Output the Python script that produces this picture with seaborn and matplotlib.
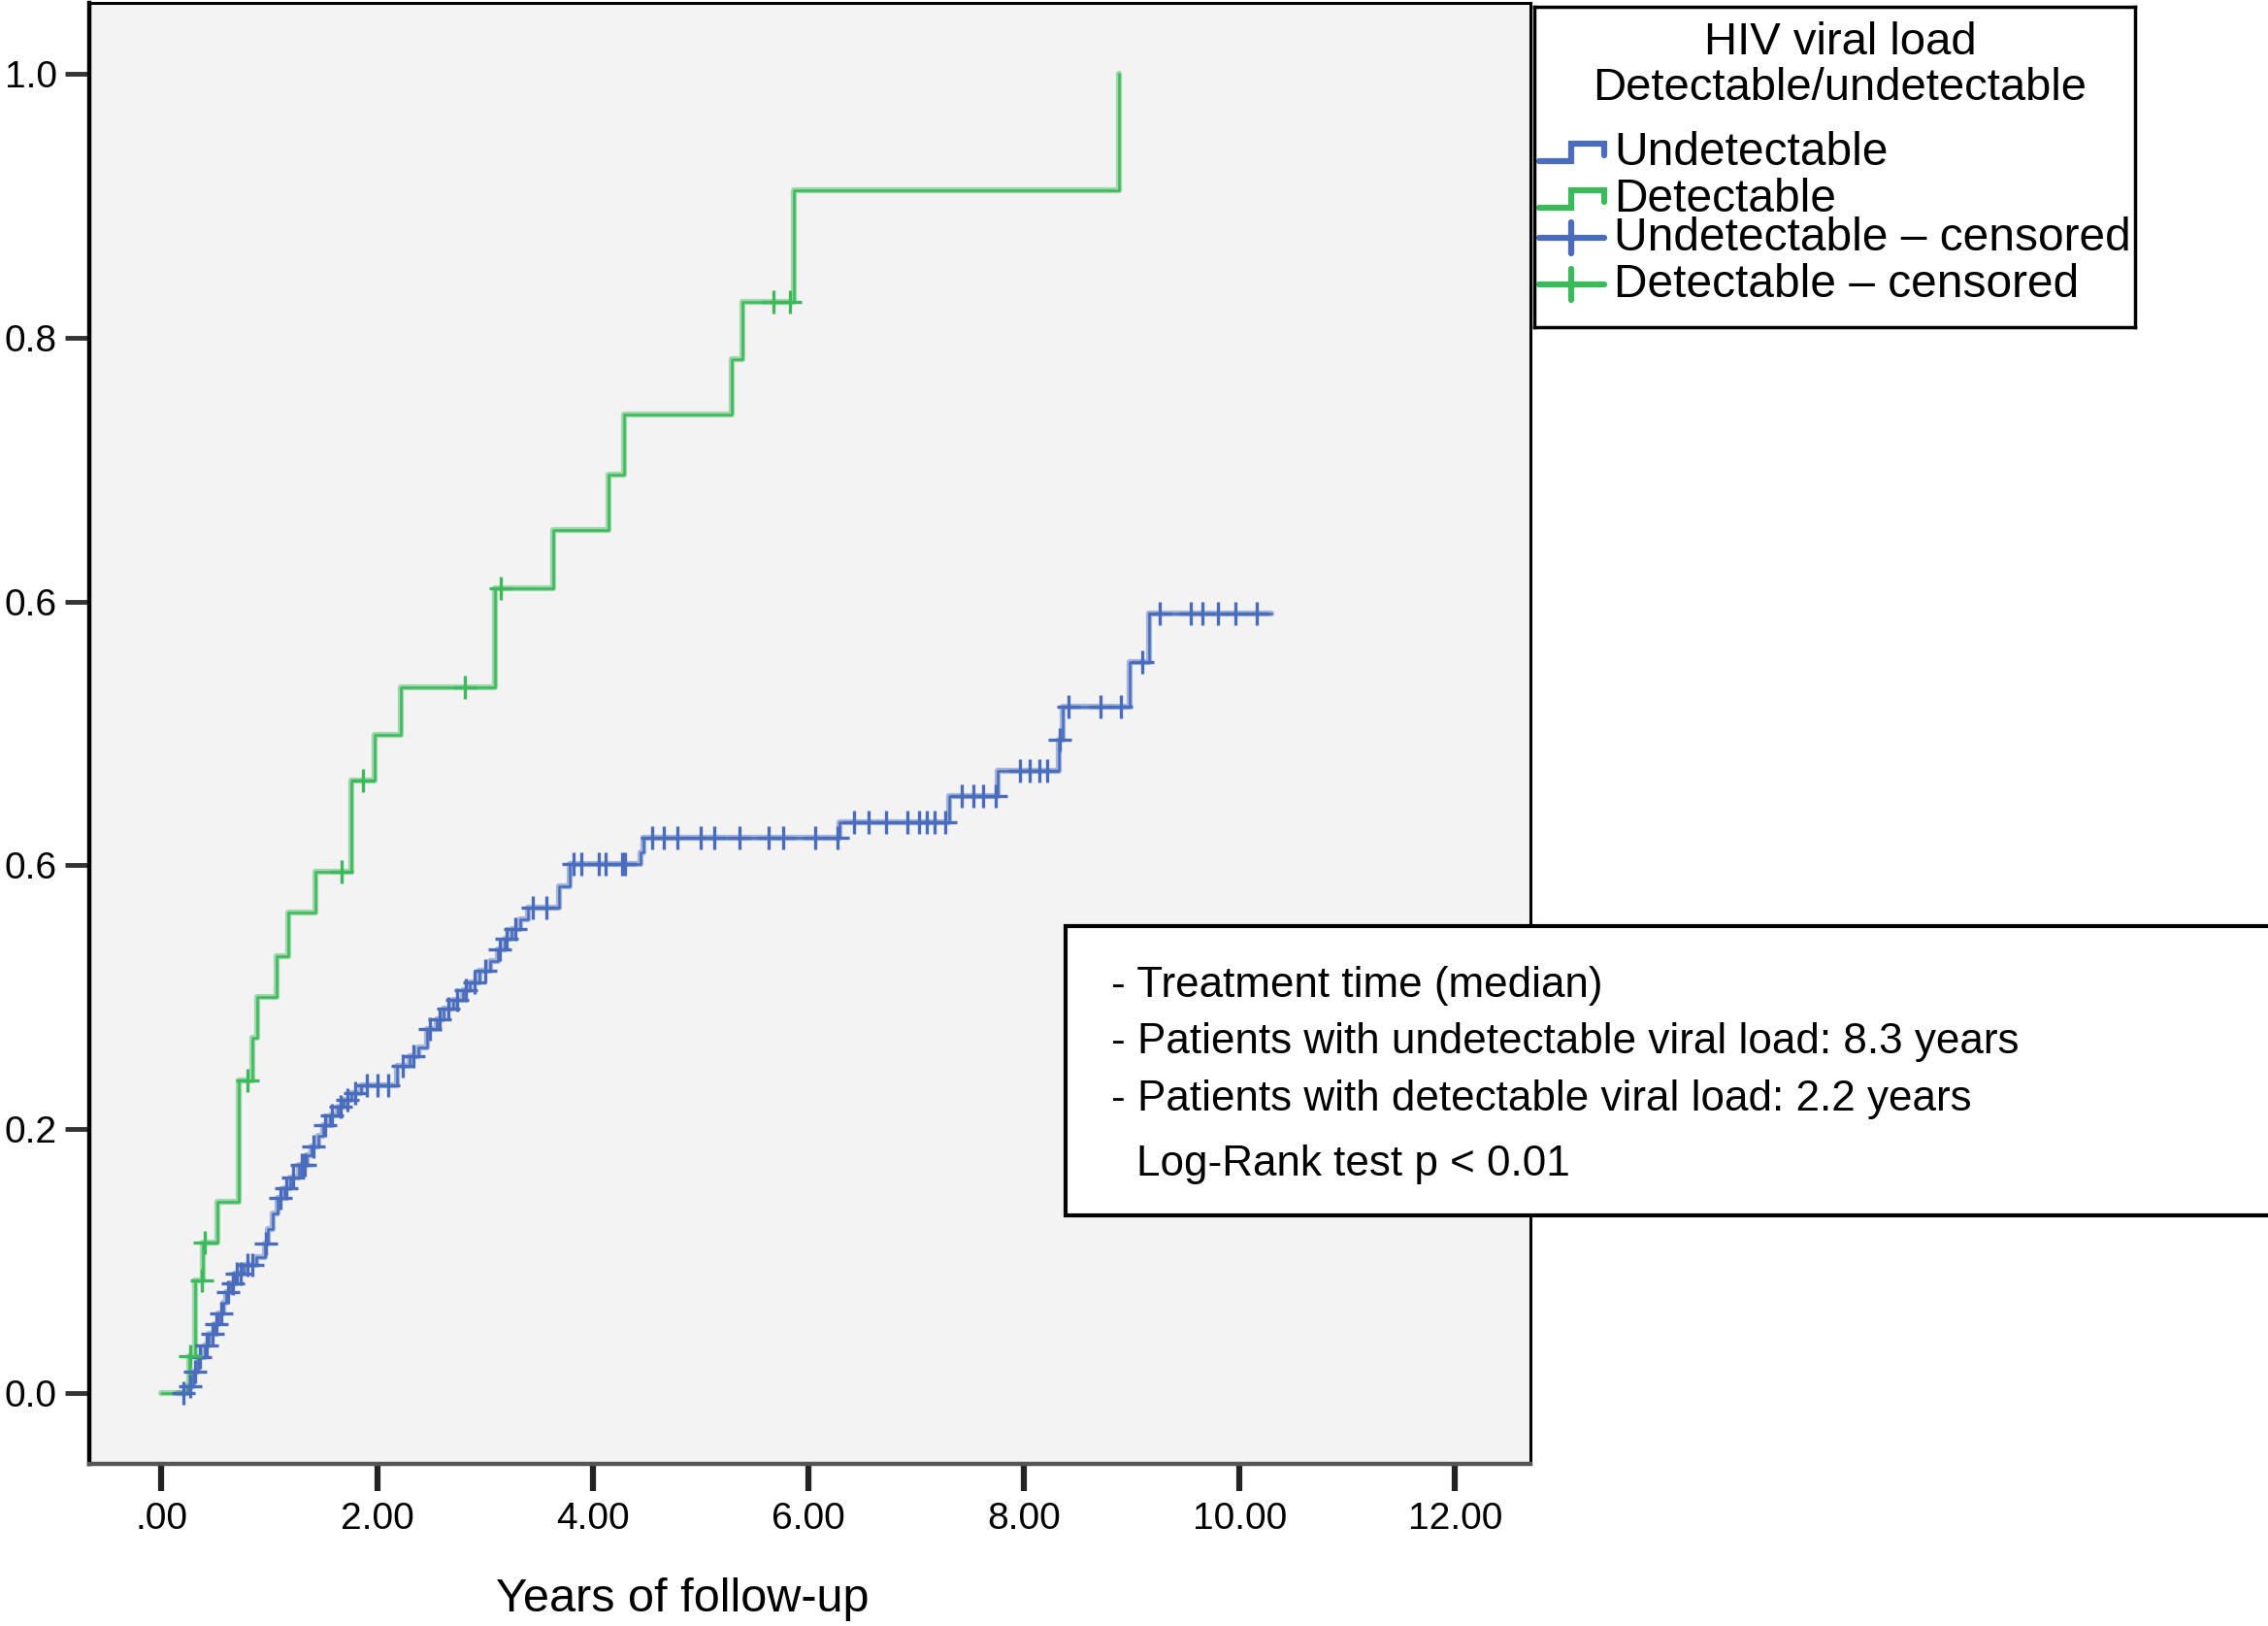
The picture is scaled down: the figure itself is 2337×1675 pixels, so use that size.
import numpy as np
import pandas as pd
import matplotlib
matplotlib.use("Agg")
import matplotlib.pyplot as plt
import seaborn as sns
from matplotlib.patches import Rectangle

# 数据：阶梯点（时间，累计比例）
undet_time = [0.15, 0.24, 0.29, 0.34, 0.40, 0.44, 0.49, 0.53, 0.57, 0.60, 0.64, 0.68,
              0.76, 0.88, 0.96, 0.99, 1.03, 1.08, 1.14, 1.19, 1.27, 1.35, 1.39, 1.45,
              1.50, 1.56, 1.63, 1.69, 1.76, 1.85, 2.18, 2.30, 2.38, 2.46, 2.55, 2.62,
              2.71, 2.80, 2.86, 2.95, 3.05, 3.12, 3.18, 3.25, 3.33, 3.40, 3.69, 3.79,
              4.44, 4.47, 6.29, 7.31, 7.76, 8.32, 8.36, 8.98, 9.16, 10.30]
undet_value = [0.0, 0.005, 0.016, 0.027, 0.036, 0.045, 0.052, 0.060, 0.068, 0.076, 0.083, 0.090,
               0.097, 0.103, 0.113, 0.124, 0.136, 0.148, 0.155, 0.163, 0.173, 0.180, 0.187, 0.195,
               0.203, 0.210, 0.217, 0.222, 0.227, 0.233, 0.248, 0.255, 0.262, 0.276, 0.283, 0.291,
               0.298, 0.305, 0.311, 0.320, 0.327, 0.336, 0.344, 0.352, 0.359, 0.368, 0.384, 0.401,
               0.410, 0.421, 0.433, 0.4525, 0.472, 0.495, 0.520, 0.554, 0.591, 0.591]
undet_censor_time = [0.20, 0.27, 0.31, 0.36, 0.42, 0.47, 0.51, 0.55, 0.62, 0.66, 0.70, 0.73,
                     0.80, 0.84, 0.97, 1.10, 1.16, 1.22, 1.30, 1.33, 1.41, 1.52, 1.58, 1.66,
                     1.72, 1.80, 1.90, 2.00, 2.10, 2.24, 2.34, 2.49, 2.58, 2.66, 2.74, 2.82,
                     2.90, 3.00, 3.14, 3.20, 3.28, 3.44, 3.57, 3.82, 3.89, 4.06, 4.12, 4.27,
                     4.30, 4.55, 4.66, 4.79, 5.00, 5.13, 5.36, 5.63, 5.77, 6.06, 6.27, 6.42,
                     6.56, 6.72, 6.92, 7.03, 7.10, 7.17, 7.27, 7.42, 7.53, 7.62, 7.74, 7.96,
                     8.05, 8.14, 8.22, 8.33, 8.41, 8.71, 8.90, 9.10, 9.26, 9.55, 9.66, 9.80,
                     9.96, 10.16]

det_time = [0.0, 0.26, 0.31, 0.385, 0.52, 0.72, 0.84, 0.89, 1.07, 1.175, 1.43,
            1.76, 1.98, 2.22, 3.09, 3.63, 4.15, 4.29, 5.29, 5.39, 5.87, 8.88]
det_value = [0.0, 0.028, 0.085, 0.114, 0.145, 0.237, 0.269, 0.300, 0.331, 0.364, 0.395,
             0.464, 0.499, 0.535, 0.610, 0.654, 0.696, 0.742, 0.784, 0.827, 0.912, 1.0]
det_censor_time = [0.27, 0.37, 0.40, 0.80, 1.67, 1.87, 2.81, 3.15, 5.68, 5.83]

x_ticks = [0, 2, 4, 6, 8, 10, 12]
x_tick_labels = ['.00', '2.00', '4.00', '6.00', '8.00', '10.00', '12.00']
y_ticks = [0.0, 0.2, 0.4, 0.6, 0.8, 1.0]
y_tick_labels = ['0.0', '0.2', '0.6', '0.6', '0.8', '1.0']

legend_title = ['HIV viral load', 'Detectable/undetectable']
legend_labels = ['Undetectable', 'Detectable', 'Undetectable \u2013 censored', 'Detectable \u2013 censored']
note_lines = ['- Treatment time (median)',
              '- Patients with undetectable viral load: 8.3 years',
              '- Patients with detectable viral load: 2.2 years']
note_test = 'Log-Rank test p < 0.01'

sns.set_theme(style='ticks')
plt.rcParams['font.family'] = ['Liberation Sans', 'DejaVu Sans']
plt.rcParams['text.color'] = 'black'

BLUE = '#4a6cbd'
GREEN = '#3cb95a'


def step_at(times, values, t):
    idx = np.searchsorted(times, t, side='right') - 1
    return np.asarray(values)[idx]


undet_df = pd.DataFrame({'time': undet_time, 'value': undet_value})
det_df = pd.DataFrame({'time': det_time, 'value': det_value})
undet_cens = pd.DataFrame({'time': undet_censor_time,
                           'value': step_at(undet_time, undet_value, undet_censor_time)})
det_cens = pd.DataFrame({'time': det_censor_time,
                         'value': step_at(det_time, det_value, det_censor_time)})

fig = plt.figure(figsize=(23.37, 16.75), dpi=100)
ax = fig.add_axes([0.0394, 0.0997, 0.6354, 0.8985])
ax.set_facecolor('#f3f3f3')

for df, cens, col in [(undet_df, undet_cens, BLUE), (det_df, det_cens, GREEN)]:
    sns.lineplot(data=df, x='time', y='value', color=col, drawstyle='steps-post',
                 estimator=None, sort=False, lw=4.5, alpha=0.45, ax=ax)
    sns.lineplot(data=df, x='time', y='value', color=col, drawstyle='steps-post',
                 estimator=None, sort=False, lw=1.8, ax=ax)
    sns.scatterplot(data=cens, x='time', y='value', marker='+', s=300, color=col,
                    linewidth=2.4, ax=ax, zorder=3)

ax.set_xlim(-0.67, 12.70)
ax.set_ylim(-0.054, 1.054)
ax.set_xticks(x_ticks)
ax.set_xticklabels(x_tick_labels)
ax.set_yticks(y_ticks)
ax.set_yticklabels(y_tick_labels)
ax.set_xlabel('')
ax.set_ylabel('')
ax.tick_params(axis='y', direction='out', length=18, width=3.5, pad=6,
               labelsize=28, color='#333333', labelcolor='black')
ax.tick_params(axis='x', direction='out', length=20, width=4.5, pad=8,
               labelsize=28, color='#222222', labelcolor='black')
for side in ['left', 'bottom', 'top', 'right']:
    ax.spines[side].set_visible(True)
    ax.spines[side].set_color('black')
    ax.spines[side].set_linewidth(2.2)
ax.spines['left'].set_linewidth(3.2)
ax.spines['bottom'].set_linewidth(3.2)
ax.spines['bottom'].set_color('#555555')

fig.text(0.3009, 0.0167, 'Years of follow-up', fontsize=35, ha='center', va='center')

# 图例框
lax = fig.add_axes([0.6765, 0.7988, 0.2649, 0.197])
lax.set_xlim(0, 619)
lax.set_ylim(330, 0)
lax.set_xticks([])
lax.set_yticks([])
lax.set_facecolor('white')
for s in lax.spines.values():
    s.set_color('black')
    s.set_linewidth(2.5)
lax.text(315, 37, legend_title[0], fontsize=34, ha='center', va='center')
lax.text(315, 84, legend_title[1], fontsize=34, ha='center', va='center')
entry_y = [150, 198, 238, 286]
entry_col = [BLUE, GREEN, BLUE, GREEN]
for i, (yy, col, lab) in enumerate(zip(entry_y, entry_col, legend_labels)):
    if i < 2:
        lax.plot([5, 38, 38, 72, 72], [yy + 9, yy + 9, yy - 9, yy - 9, yy + 3],
                 color=col, lw=4.5, solid_joinstyle='miter')
    else:
        lax.plot([5, 72], [yy, yy], color=col, lw=4.5)
        lax.plot([38, 38], [yy - 16, yy + 16], color=col, lw=4.5)
    lax.text(82, yy, lab, fontsize=34.5, ha='left', va='center')

# 注释框
fig.patches.append(Rectangle((0.4698, 0.2525), 0.56, 0.1779, transform=fig.transFigure,
                             facecolor='white', edgecolor='black', lw=3, zorder=5))
for yy, line in zip([0.3940, 0.3594, 0.3237], note_lines):
    fig.text(0.490, yy, line, fontsize=31.7, ha='left', va='center', zorder=6)
fig.text(0.501, 0.2836, note_test, fontsize=31.7, ha='left', va='center', zorder=6)

fig.savefig('out.png', dpi=100)
